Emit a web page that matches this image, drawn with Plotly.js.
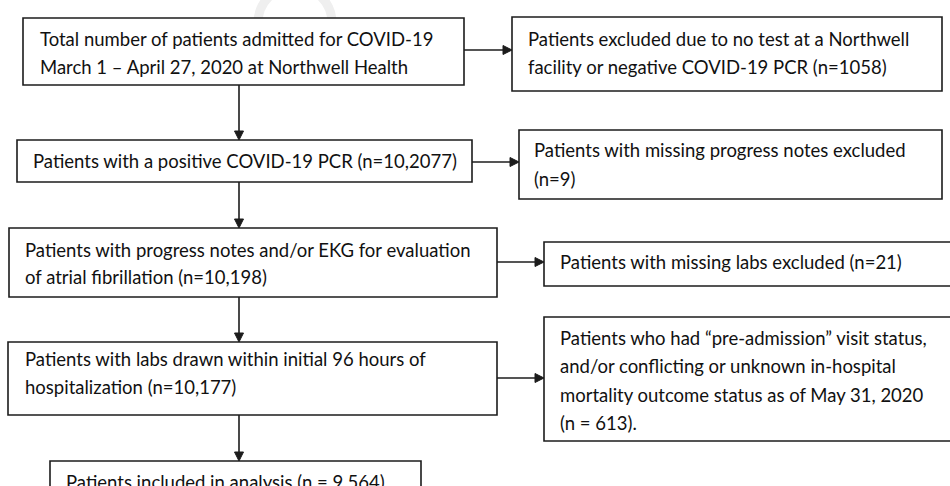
<!DOCTYPE html>
<html><head><meta charset="utf-8">
<script src="https://cdn.plot.ly/plotly-3.0.1.min.js"></script>
<style>html,body{margin:0;padding:0;background:#fff}#chart{width:950px;height:486px}</style>
</head><body><div id="chart"></div>
<script>
// ---- content (text of the flow chart) ----
const stageLines = [
  ["Total number of patients admitted for COVID-19", "March 1 \u2013 April 27, 2020 at Northwell Health"],
  ["Patients with a positive COVID-19 PCR (n=10,2077)"],
  ["Patients with progress notes and/or EKG for evaluation", "of atrial fibrillation (n=10,198)"],
  ["Patients with labs drawn within initial 96 hours of", "hospitalization (n=10,177)"],
  ["Patients included in analysis (n = 9,564)"]
];
const exclusionLines = [
  ["Patients excluded due to no test at a Northwell", "facility or negative COVID-19 PCR (n=1058)"],
  ["Patients with missing progress notes excluded", "(n=9)"],
  ["Patients with missing labs excluded (n=21)"],
  ["Patients who had \u201cpre-admission\u201d visit status,", "and/or conflicting or unknown in-hospital", "mortality outcome status as of May 31, 2020", "(n = 613)."]
];

// ---- layout geometry (pixel space of the 950x486 canvas) ----
const stageBoxes = [[23,464,18,85],[17,472,140,182],[9,497,228,297],[8,497,342,415],[50,421,461,520]];
const stageTextX = [38,31,23,23,64];
const stageLineY = [[39,67],[161],[250,277],[359,387],[482]];
const exclBoxes = [[512,942,17,91],[519,942,130,199],[544,953,242,286],[544,953,317,441]];
const exclTextX = [526,532,558,558];
const exclLineY = [[39,67],[150,179],[262],[338,366,395,423]];
const sideArrowY = [50,162,262,378];
const mainArrowX = 239;

const INK = '#1c1c1c';
const FONT = {family: 'Lato, "Open Sans", sans-serif', size: 18.5, color: '#111'};

const shapes = [];
const annotations = [];

// faint watermark ring behind the first box
shapes.push({type:'circle', xref:'x', yref:'y', x0:258, x1:332, y0:-14, y1:60,
  line:{color:'#efefef', width:9}, layer:'below'});

function box(b){
  shapes.push({type:'rect', xref:'x', yref:'y', x0:b[0], x1:b[1], y0:b[2], y1:b[3],
    fillcolor:'#fff', line:{color:INK, width:1.6}});
}
function text(lines, x, ys){
  lines.forEach((t,i)=>annotations.push({xref:'x', yref:'y', x:x, y:ys[i], text:t,
    showarrow:false, xanchor:'left', yanchor:'middle', font:FONT}));
}
function line(x0,y0,x1,y1){
  shapes.push({type:'line', xref:'x', yref:'y', x0, y0, x1, y1, line:{color:INK, width:1.6}});
}
function head(x,y,dir){
  let p;
  if(dir==='down') p = `M ${x-4.5} ${y-9} L ${x+4.5} ${y-9} L ${x} ${y} Z`;
  else p = `M ${x-9} ${y-4.5} L ${x-9} ${y+4.5} L ${x} ${y} Z`;
  shapes.push({type:'path', xref:'x', yref:'y', path:p, fillcolor:INK, line:{color:INK, width:1}});
}

stageBoxes.forEach(box);
exclBoxes.forEach(box);
stageLines.forEach((l,i)=>text(l, stageTextX[i], stageLineY[i]));
exclusionLines.forEach((l,i)=>text(l, exclTextX[i], exclLineY[i]));

// vertical arrows between stages
for(let i=0;i<stageBoxes.length-1;i++){
  const y0 = stageBoxes[i][3], y1 = stageBoxes[i+1][2];
  line(mainArrowX, y0, mainArrowX, y1-8);
  head(mainArrowX, y1, 'down');
}
// side arrows to exclusions
exclBoxes.forEach((b,i)=>{
  const x0 = stageBoxes[i][1], x1 = b[0], y = sideArrowY[i];
  line(x0, y, x1-8, y);
  head(x1, y, 'right');
});

const layout = {
  width:950, height:486, margin:{l:0,r:0,t:0,b:0},
  paper_bgcolor:'#fff', plot_bgcolor:'#fff', showlegend:false,
  xaxis:{range:[0,950], visible:false, fixedrange:true},
  yaxis:{range:[486,0], visible:false, fixedrange:true},
  shapes, annotations
};
Plotly.newPlot('chart', [], layout, {staticPlot:true, displayModeBar:false});
</script></body></html>
